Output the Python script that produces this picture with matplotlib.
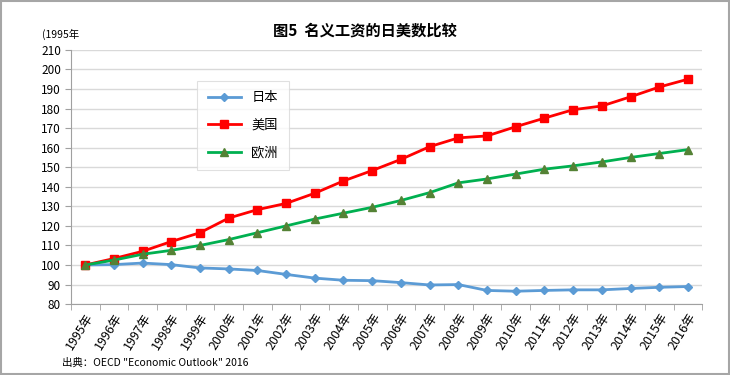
import numpy as np
import matplotlib
matplotlib.use('Agg')
import matplotlib.pyplot as plt
from matplotlib.patches import Rectangle

plt.rcParams['font.family'] = ['Noto Sans CJK SC', 'DejaVu Sans']

# data
years = [str(y) + '年' for y in range(1995, 2017)]
japan = [100, 100.2, 101, 100.2, 98.5, 98, 97.2, 95.2, 93.3, 92.2, 92, 91,
         89.8, 90, 87, 86.6, 87, 87.3, 87.3, 88, 88.6, 89]
usa = [100, 103.3, 107, 112, 116.5, 124, 128.3, 131.5, 136.7, 143, 148.3, 154,
       160.5, 165, 166, 170.7, 175.1, 179.4, 181.3, 186, 191, 195]
europe = [100, 102.5, 105.5, 107.5, 110, 113, 116.5, 120, 123.5, 126.5, 129.5, 133,
          137, 142, 144, 146.5, 149, 150.7, 152.7, 155, 157, 159]

fig = plt.figure(figsize=(7.3, 3.75), dpi=100)
ax = fig.add_axes([0.097, 0.189, 0.865, 0.678])

x = np.arange(len(years))
ax.plot(x, japan, color='#5B9BD5', lw=2, marker='D', ms=4, label='日本', zorder=3)
ax.plot(x, usa, color='#FF0000', lw=2, marker='s', ms=6, label='美国', zorder=3)
ax.plot(x, europe, color='#00B050', lw=2, marker='^', ms=6,
        mfc='#548235', mec='#548235', label='欧洲', zorder=3)

ax.set_xlim(-0.5, len(years) - 0.5)
ax.set_ylim(80, 210)
ax.set_yticks(np.arange(80, 211, 10))
ax.set_xticks(x)
ax.set_xticklabels(years, rotation=58, ha='right', rotation_mode='anchor', fontsize=9)
ax.set_xticks(np.arange(-0.5, len(years)), minor=True)
ax.tick_params(axis='x', which='major', length=0, pad=5)
ax.tick_params(axis='x', which='minor', length=4, color='#A0A0A0')
ax.tick_params(axis='y', length=4, color='#A0A0A0', labelsize=8.5, pad=3)
ax.grid(axis='y', color='#D9D9D9', lw=1)
ax.set_axisbelow(True)
for s in ['top', 'right']:
    ax.spines[s].set_visible(False)
for s in ['left', 'bottom']:
    ax.spines[s].set_color('#A0A0A0')

leg = ax.legend(loc='upper left', bbox_to_anchor=(0.19, 0.905), frameon=True,
                fancybox=False, edgecolor='#D9D9D9', fontsize=9.5,
                handlelength=2.5, labelspacing=1.1, borderpad=0.8)
leg.get_frame().set_linewidth(0.8)

fig.text(0.5, 0.905, '图5  名义工资的日美数比较', ha='center', fontsize=11, fontweight='bold')
fig.text(0.058, 0.9, '(1995年', fontsize=7.5)
fig.text(0.085, 0.025, '出典：OECD "Economic Outlook" 2016', fontsize=7.5)

fig.patches.append(Rectangle((0.002, 0.003), 0.996, 0.994, transform=fig.transFigure,
                             fill=False, edgecolor='#A6A6A6', lw=1.5))

fig.savefig('out.png', dpi=100)
